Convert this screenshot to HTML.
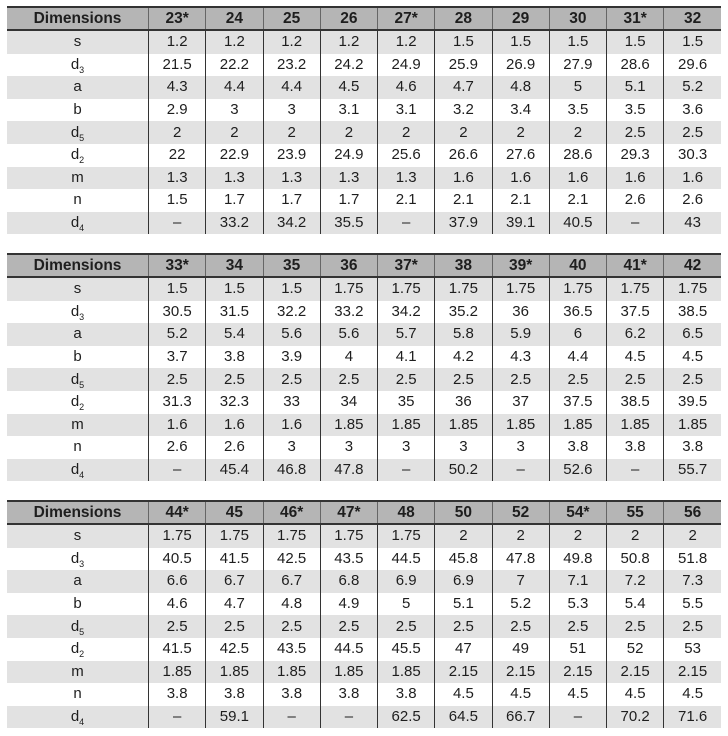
<!DOCTYPE html>
<html><head><meta charset="utf-8"><style>
body{margin:0;background:#fff;font-family:"Liberation Sans",sans-serif;}
table{position:absolute;left:7px;width:714px;border-collapse:collapse;table-layout:fixed;color:#1e1e1e;}
td{height:22.6px;padding:0;text-align:center;font-size:15px;border-left:1px solid #333;line-height:20px;}
td:first-child{border-left:none;width:141px;}
tr.h td{background:#b5b5b5;font-weight:bold;font-size:15.5px;height:21px;border-top:2px solid #333;border-bottom:2px solid #333;border-left:1px solid #666;}
tr.h td:first-child{border-left:none;}
tr.g td{background:#e2e2e2;}
sub{font-size:9px;vertical-align:-4px;line-height:0;}
</style></head><body>
<table style="top:6px">
<tr class="h"><td>Dimensions</td><td>23*</td><td>24</td><td>25</td><td>26</td><td>27*</td><td>28</td><td>29</td><td>30</td><td>31*</td><td>32</td></tr>
<tr class="g"><td>s</td><td>1.2</td><td>1.2</td><td>1.2</td><td>1.2</td><td>1.2</td><td>1.5</td><td>1.5</td><td>1.5</td><td>1.5</td><td>1.5</td></tr>
<tr><td>d<sub>3</sub></td><td>21.5</td><td>22.2</td><td>23.2</td><td>24.2</td><td>24.9</td><td>25.9</td><td>26.9</td><td>27.9</td><td>28.6</td><td>29.6</td></tr>
<tr class="g"><td>a</td><td>4.3</td><td>4.4</td><td>4.4</td><td>4.5</td><td>4.6</td><td>4.7</td><td>4.8</td><td>5</td><td>5.1</td><td>5.2</td></tr>
<tr><td>b</td><td>2.9</td><td>3</td><td>3</td><td>3.1</td><td>3.1</td><td>3.2</td><td>3.4</td><td>3.5</td><td>3.5</td><td>3.6</td></tr>
<tr class="g"><td>d<sub>5</sub></td><td>2</td><td>2</td><td>2</td><td>2</td><td>2</td><td>2</td><td>2</td><td>2</td><td>2.5</td><td>2.5</td></tr>
<tr><td>d<sub>2</sub></td><td>22</td><td>22.9</td><td>23.9</td><td>24.9</td><td>25.6</td><td>26.6</td><td>27.6</td><td>28.6</td><td>29.3</td><td>30.3</td></tr>
<tr class="g"><td>m</td><td>1.3</td><td>1.3</td><td>1.3</td><td>1.3</td><td>1.3</td><td>1.6</td><td>1.6</td><td>1.6</td><td>1.6</td><td>1.6</td></tr>
<tr><td>n</td><td>1.5</td><td>1.7</td><td>1.7</td><td>1.7</td><td>2.1</td><td>2.1</td><td>2.1</td><td>2.1</td><td>2.6</td><td>2.6</td></tr>
<tr class="g"><td>d<sub>4</sub></td><td>–</td><td>33.2</td><td>34.2</td><td>35.5</td><td>–</td><td>37.9</td><td>39.1</td><td>40.5</td><td>–</td><td>43</td></tr>
</table>
<table style="top:253px">
<tr class="h"><td>Dimensions</td><td>33*</td><td>34</td><td>35</td><td>36</td><td>37*</td><td>38</td><td>39*</td><td>40</td><td>41*</td><td>42</td></tr>
<tr class="g"><td>s</td><td>1.5</td><td>1.5</td><td>1.5</td><td>1.75</td><td>1.75</td><td>1.75</td><td>1.75</td><td>1.75</td><td>1.75</td><td>1.75</td></tr>
<tr><td>d<sub>3</sub></td><td>30.5</td><td>31.5</td><td>32.2</td><td>33.2</td><td>34.2</td><td>35.2</td><td>36</td><td>36.5</td><td>37.5</td><td>38.5</td></tr>
<tr class="g"><td>a</td><td>5.2</td><td>5.4</td><td>5.6</td><td>5.6</td><td>5.7</td><td>5.8</td><td>5.9</td><td>6</td><td>6.2</td><td>6.5</td></tr>
<tr><td>b</td><td>3.7</td><td>3.8</td><td>3.9</td><td>4</td><td>4.1</td><td>4.2</td><td>4.3</td><td>4.4</td><td>4.5</td><td>4.5</td></tr>
<tr class="g"><td>d<sub>5</sub></td><td>2.5</td><td>2.5</td><td>2.5</td><td>2.5</td><td>2.5</td><td>2.5</td><td>2.5</td><td>2.5</td><td>2.5</td><td>2.5</td></tr>
<tr><td>d<sub>2</sub></td><td>31.3</td><td>32.3</td><td>33</td><td>34</td><td>35</td><td>36</td><td>37</td><td>37.5</td><td>38.5</td><td>39.5</td></tr>
<tr class="g"><td>m</td><td>1.6</td><td>1.6</td><td>1.6</td><td>1.85</td><td>1.85</td><td>1.85</td><td>1.85</td><td>1.85</td><td>1.85</td><td>1.85</td></tr>
<tr><td>n</td><td>2.6</td><td>2.6</td><td>3</td><td>3</td><td>3</td><td>3</td><td>3</td><td>3.8</td><td>3.8</td><td>3.8</td></tr>
<tr class="g"><td>d<sub>4</sub></td><td>–</td><td>45.4</td><td>46.8</td><td>47.8</td><td>–</td><td>50.2</td><td>–</td><td>52.6</td><td>–</td><td>55.7</td></tr>
</table>
<table style="top:500px">
<tr class="h"><td>Dimensions</td><td>44*</td><td>45</td><td>46*</td><td>47*</td><td>48</td><td>50</td><td>52</td><td>54*</td><td>55</td><td>56</td></tr>
<tr class="g"><td>s</td><td>1.75</td><td>1.75</td><td>1.75</td><td>1.75</td><td>1.75</td><td>2</td><td>2</td><td>2</td><td>2</td><td>2</td></tr>
<tr><td>d<sub>3</sub></td><td>40.5</td><td>41.5</td><td>42.5</td><td>43.5</td><td>44.5</td><td>45.8</td><td>47.8</td><td>49.8</td><td>50.8</td><td>51.8</td></tr>
<tr class="g"><td>a</td><td>6.6</td><td>6.7</td><td>6.7</td><td>6.8</td><td>6.9</td><td>6.9</td><td>7</td><td>7.1</td><td>7.2</td><td>7.3</td></tr>
<tr><td>b</td><td>4.6</td><td>4.7</td><td>4.8</td><td>4.9</td><td>5</td><td>5.1</td><td>5.2</td><td>5.3</td><td>5.4</td><td>5.5</td></tr>
<tr class="g"><td>d<sub>5</sub></td><td>2.5</td><td>2.5</td><td>2.5</td><td>2.5</td><td>2.5</td><td>2.5</td><td>2.5</td><td>2.5</td><td>2.5</td><td>2.5</td></tr>
<tr><td>d<sub>2</sub></td><td>41.5</td><td>42.5</td><td>43.5</td><td>44.5</td><td>45.5</td><td>47</td><td>49</td><td>51</td><td>52</td><td>53</td></tr>
<tr class="g"><td>m</td><td>1.85</td><td>1.85</td><td>1.85</td><td>1.85</td><td>1.85</td><td>2.15</td><td>2.15</td><td>2.15</td><td>2.15</td><td>2.15</td></tr>
<tr><td>n</td><td>3.8</td><td>3.8</td><td>3.8</td><td>3.8</td><td>3.8</td><td>4.5</td><td>4.5</td><td>4.5</td><td>4.5</td><td>4.5</td></tr>
<tr class="g"><td>d<sub>4</sub></td><td>–</td><td>59.1</td><td>–</td><td>–</td><td>62.5</td><td>64.5</td><td>66.7</td><td>–</td><td>70.2</td><td>71.6</td></tr>
</table>
</body></html>
